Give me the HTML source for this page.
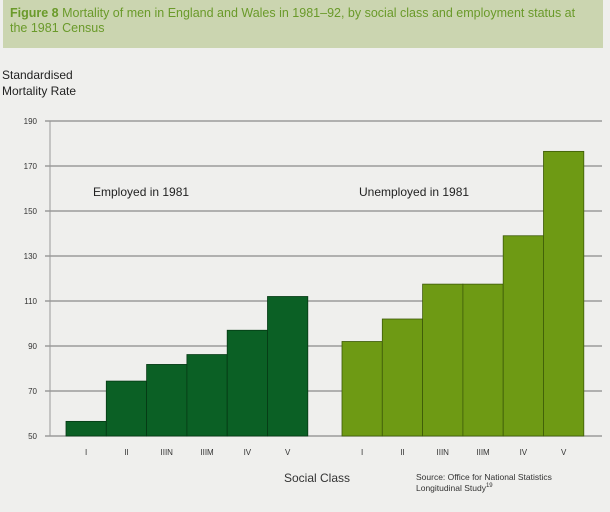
<!DOCTYPE html>
<html><head><meta charset="utf-8"><style>
body{margin:0;background:#efefed;width:610px;height:512px;overflow:hidden;font-family:"Liberation Sans",Arial,sans-serif}
</style></head><body>
<svg width="610" height="512" viewBox="0 0 610 512" style="display:block">
<rect x="0" y="0" width="610" height="512" fill="#efefed"/>
<rect x="3" y="0" width="600" height="48" fill="#cbd5b0"/>
<text x="10" y="17" font-size="12.5" fill="#6a9a2a"><tspan font-weight="bold">Figure 8</tspan> Mortality of men in England and Wales in 1981–92, by social class and employment status at</text>
<text x="10" y="32" font-size="12.5" fill="#6a9a2a">the 1981 Census</text>
<text x="2" y="79" font-size="12" fill="#222">Standardised</text>
<text x="2" y="95" font-size="12" fill="#222">Mortality Rate</text>
<g id="grid"></g>
<g id="bars"></g>
<g id="labels"></g>
<text x="93" y="196" font-size="12" fill="#222">Employed in 1981</text>
<text x="359" y="196" font-size="12" fill="#222">Unemployed in 1981</text>
<text x="284" y="482" font-size="12" fill="#333">Social Class</text>
<text x="416" y="480" font-size="8.5" fill="#333">Source: Office for National Statistics</text>
<text x="416" y="491" font-size="8.5" fill="#333">Longitudinal Study<tspan font-size="6" dy="-4">19</tspan></text>
</svg>
<script>
const categories = ["I","II","IIIN","IIIM","IV","V"];
const employedValues = [56.5, 74.4, 81.8, 86.2, 97, 112];
const unemployedValues = [92, 102, 117.5, 117.5, 139, 176.5];
const yTicks = [50,70,90,110,130,150,170,190];

const NS="http://www.w3.org/2000/svg";
const y0=436, y1=121, vMin=50, vMax=190;
function yScale(v){return y0-(v-vMin)/(vMax-vMin)*(y0-y1);}
const empStart=66, unStart=342, bw=40.3;
function xScale(group,i){return (group===0?empStart:unStart)+i*bw;}
function mk(tag,attrs,parent){const e=document.createElementNS(NS,tag);for(const k in attrs)e.setAttribute(k,attrs[k]);parent.appendChild(e);return e;}

const grid=document.getElementById('grid');
yTicks.forEach(t=>{
  const y=yScale(t);
  const l=mk('line',{x1:45,x2:602,y1:y,y2:y,stroke:'#8a8a8a','stroke-width':1.2},grid);
  
  
  const tx=mk('text',{x:37,y:y+3,'font-size':8,'text-anchor':'end',fill:'#333'},grid);
  tx.textContent=t;
  
  
});
const ax=mk('line',{x1:50,x2:50,y1:y1,y2:y0,stroke:'#999','stroke-width':1},grid);



const bars=document.getElementById('bars'), labels=document.getElementById('labels');
[employedValues,unemployedValues].forEach((vals,g)=>{
  vals.forEach((v,i)=>{
    const x=xScale(g,i), y=yScale(v);
    const r=mk('rect',{x:x,y:y,width:bw,height:y0-y,fill:g===0?'#0b6025':'#6e9a14',stroke:g===0?'#053a14':'#3d5a08','stroke-width':0.8},bars);
    
    
    const t=mk('text',{x:x+bw/2,y:455,'font-size':8,'text-anchor':'middle',fill:'#333'},labels);
    t.textContent=categories[i];
    
    
  });
});
</script>
</body></html>
